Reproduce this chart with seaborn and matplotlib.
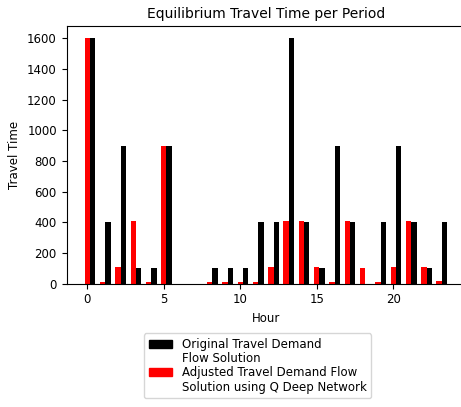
import matplotlib
matplotlib.use("Agg")
import matplotlib.pyplot as plt
from matplotlib.patches import Patch
import numpy as np
import pandas as pd
import seaborn as sns

hours = list(range(24))
original = [1600, 400, 900, 100, 100, 900, 0, 0, 100, 100, 100, 400,
            400, 1600, 400, 100, 900, 400, 0, 400, 900, 400, 100, 400]
adjusted = [1600, 10, 110, 410, 10, 900, 0, 0, 10, 10, 10, 10,
            110, 410, 410, 110, 10, 410, 100, 10, 110, 410, 110, 18]
lab_orig = ["Original Travel Demand", "Flow Solution"]
lab_adj = ["Adjusted Travel Demand Flow", "Solution using Q Deep Network"]

# red bar sits on the hour, black one beside it
shift = 0.175
df = pd.concat([
    pd.DataFrame({"hour": np.array(hours) + shift, "time": adjusted, "series": "adjusted"}),
    pd.DataFrame({"hour": np.array(hours) + shift, "time": original, "series": "original"}),
])

plt.rcParams["font.size"] = 8.5
fig = plt.figure(figsize=(4.61, 4.07), dpi=100)
ax = fig.add_axes([0.1443, 0.3034, 0.865, 0.6327])
sns.barplot(data=df, x="hour", y="time", hue="series", native_scale=True,
            hue_order=["adjusted", "original"], palette=["red", "black"],
            width=0.7, errorbar=None, saturation=1, ax=ax, legend=False)
ax.set_xlim(-1.36, 24.71)
ax.set_xticks([0, 5, 10, 15, 20])
ax.set_yticks(range(0, 1601, 200))
ax.set_title("Equilibrium Travel Time per Period", fontsize=10)
ax.set_xlabel("Hour")
ax.set_ylabel("Travel Time")

blank = Patch(visible=False)
handles = [Patch(color="black"), blank, Patch(color="red"), blank]
labels = lab_orig + lab_adj
ax.legend(handles, labels, loc="upper left", bbox_to_anchor=(0.3124, 0.181),
          bbox_transform=fig.transFigure, borderaxespad=0, labelspacing=0.1)

fig.savefig("out.png", dpi=100)
